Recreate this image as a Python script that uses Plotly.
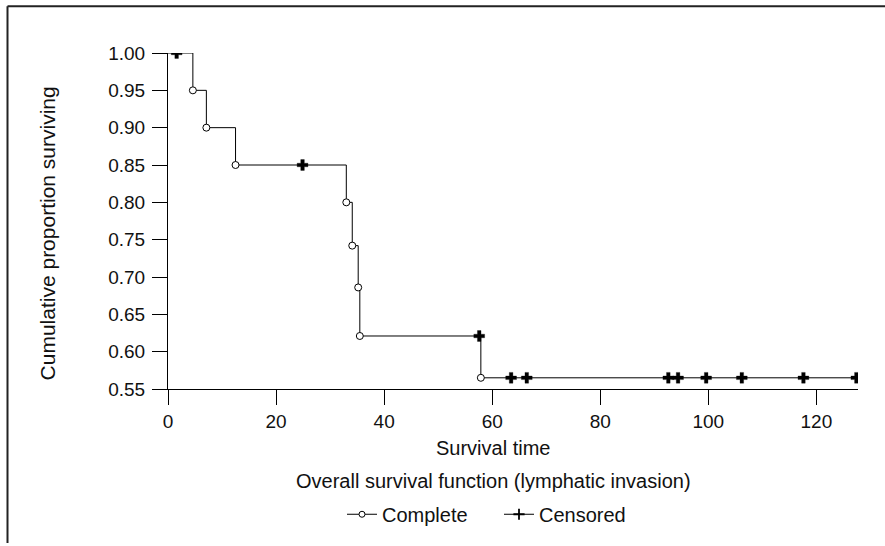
import plotly.graph_objects as go

# ---- data ----
event_times = [4.6, 7.1, 12.5, 33.0, 34.1, 35.2, 35.5, 57.9]
event_surv = [0.95, 0.90, 0.85, 0.80, 0.742, 0.686, 0.621, 0.565]
censor_times = [1.6, 24.9, 57.6, 63.5, 66.4, 92.6, 94.4, 99.6, 106.2, 117.6, 127.4]
censor_surv = [1.00, 0.85, 0.621, 0.565, 0.565, 0.565, 0.565, 0.565, 0.565, 0.565, 0.565]
x_ticks = [0, 20, 40, 60, 80, 100, 120]
y_ticks = [0.55, 0.60, 0.65, 0.70, 0.75, 0.80, 0.85, 0.90, 0.95, 1.00]
x_title = "Survival time"
y_title = "Cumulative proportion surviving"
chart_title = "Overall survival function (lymphatic invasion)"
legend_names = ["Complete", "Censored"]

FONT = "Liberation Sans, Arial, Helvetica, sans-serif"
INK = "#111111"

# step line
step_x = [0.0] + event_times + [censor_times[-1]]
step_y = [1.0] + event_surv + [event_surv[-1]]

fig = go.Figure()
fig.add_trace(go.Scatter(
    x=step_x, y=step_y, mode="lines", line=dict(shape="hv", color="#000000", width=1),
    showlegend=False, hoverinfo="skip"))
fig.add_trace(go.Scatter(
    x=event_times, y=event_surv, mode="markers", showlegend=False,
    marker=dict(symbol="circle", size=7, color="white", line=dict(color="#000000", width=1))))
fig.add_trace(go.Scatter(
    x=censor_times, y=censor_surv, mode="markers", showlegend=False,
    marker=dict(symbol="cross", size=9, color="#000000", line=dict(color="#000000", width=0.3))))
# legend entries
fig.add_trace(go.Scatter(
    x=[None], y=[None], mode="lines+markers", name=legend_names[0],
    line=dict(color="#000000", width=1),
    marker=dict(symbol="circle", size=6, color="white", line=dict(color="#000000", width=1))))
fig.add_trace(go.Scatter(
    x=[None], y=[None], mode="lines+markers", name=legend_names[1],
    line=dict(color="#000000", width=1),
    marker=dict(symbol="cross-thin", size=8, color="#000000", line=dict(color="#000000", width=1.8))))

L, T, W, H = 168, 53, 690, 338
def px(x):
    return (x - L) / W
def py(y):
    return (T + H - y) / H

fig.update_layout(
    width=885, height=546,
    margin=dict(l=L, r=885 - L - W, t=T, b=546 - T - H),
    paper_bgcolor="white", plot_bgcolor="white",
    font=dict(family=FONT, color=INK, size=19),
    showlegend=True,
    legend=dict(orientation="h", x=px(342), y=py(517), xanchor="left", yanchor="middle",
                font=dict(size=20, family=FONT, color=INK), bgcolor="rgba(0,0,0,0)",
                itemwidth=30, tracegroupgap=0, entrywidth=112, entrywidthmode="pixels"),
    xaxis=dict(range=[0, 127.7], tickvals=x_ticks, ticks="outside", ticklen=15, tickwidth=1,
               tickcolor="#000000", showline=True, linecolor="#000000", linewidth=1,
               showgrid=False, zeroline=False, tickfont=dict(size=19, family=FONT, color=INK)),
    yaxis=dict(range=[0.55, 1.0], tickvals=y_ticks, tickformat=".2f", ticks="outside",
               ticklen=15, tickwidth=1, tickcolor="#000000", showline=True,
               linecolor="#000000", linewidth=1, showgrid=False, zeroline=False,
               ticklabelstandoff=3,
               tickfont=dict(size=19, family=FONT, color=INK)),
    annotations=[
        dict(text=x_title, x=px(493), y=py(450), xref="paper", yref="paper",
             xanchor="center", yanchor="middle", showarrow=False, font=dict(size=20)),
        dict(text=chart_title, x=px(493), y=py(484), xref="paper", yref="paper",
             xanchor="center", yanchor="middle", showarrow=False, font=dict(size=20)),
        dict(text=y_title, x=px(47), y=py(234.5), xref="paper", yref="paper",
             xanchor="center", yanchor="middle", textangle=-90, showarrow=False,
             font=dict(size=21)),
    ],
    shapes=[
        dict(type="line", xref="paper", yref="paper", x0=px(7.5), x1=px(7.5), y0=py(6), y1=py(546),
             line=dict(color="#222222", width=2)),
        dict(type="line", xref="paper", yref="paper", x0=px(7.5), x1=px(885), y0=py(6), y1=py(6),
             line=dict(color="#222222", width=2)),
    ],
)

fig.write_html("out.html")
